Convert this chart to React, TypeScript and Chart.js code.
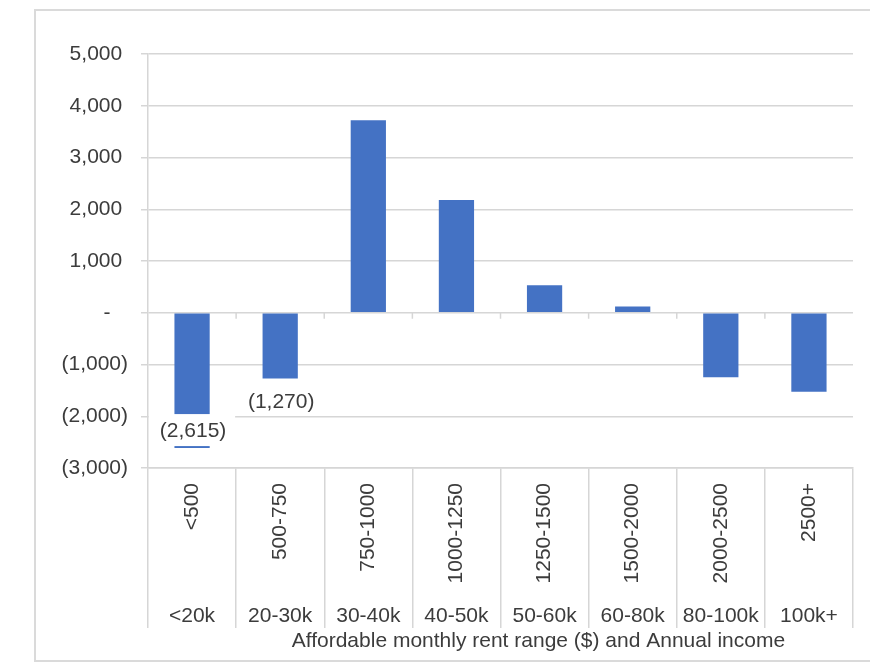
import React, { useEffect, useRef } from "react";
import { Chart, registerables } from "chart.js";

Chart.register(...registerables);

// ---- data ----
const rentRanges = ["<500", "500-750", "750-1000", "1000-1250", "1250-1500", "1500-2000", "2000-2500", "2500+"];
const incomeRanges = ["<20k", "20-30k", "30-40k", "40-50k", "50-60k", "60-80k", "80-100k", "100k+"];
const surplus = [-2615, -1270, 3720, 2180, 530, 120, -1245, -1525];
const labelledBars = [0, 1];
const yMin = -3000;
const yMax = 5000;
const yStep = 1000;
const xTitle = "Affordable monthly rent range ($) and Annual income";

const FONT_FAMILY = '"Liberation Sans", Arial, sans-serif';
const TEXT = "#3c3c3c";
const GRID = "#d6d6d6";
const BAR = "#4472C4";

const fmtNum = (n: number) => Math.round(n).toLocaleString("en-US");
const fmtAcct = (v: number) => (v === 0 ? "-   " : v < 0 ? `(${fmtNum(-v)})` : `${fmtNum(v)} `);

const barLabelPlugin = {
  id: "barLabels",
  afterDatasetsDraw(chart: any) {
    const { ctx, chartArea } = chart;
    const meta = chart.getDatasetMeta(0);
    const xs = chart.scales.x;
    const ys = chart.scales.y;
    const catW = xs.width / rentRanges.length;
    ctx.save();
    // small tick marks on the zero line at category boundaries
    const zeroY = ys.getPixelForValue(0);
    ctx.strokeStyle = GRID;
    ctx.lineWidth = 1.5;
    for (let i = 1; i < rentRanges.length; i++) {
      const bx = xs.getPixelForValue(i) - catW / 2;
      ctx.beginPath();
      ctx.moveTo(bx, zeroY);
      ctx.lineTo(bx, zeroY + 6);
      ctx.stroke();
    }
    ctx.font = `21px ${FONT_FAMILY}`;
    ctx.textAlign = "center";
    ctx.textBaseline = "middle";
    labelledBars.forEach((i) => {
      const el = meta.data[i];
      const v = surplus[i];
      const dir = v < 0 ? 1 : -1;
      let y = el.y + dir * 23;
      if (y + 13 > chartArea.bottom) {
        y = el.y - dir * 18;
        ctx.fillStyle = "#ffffff";
        ctx.fillRect(el.x - catW / 2 + 1, y - 16, catW - 2, 32);
      }
      ctx.fillStyle = TEXT;
      ctx.fillText(fmtAcct(v), el.x + 1, y + 1);
    });
    ctx.restore();
  },
};

export default function App() {
  const ref = useRef<HTMLCanvasElement | null>(null);

  useEffect(() => {
    if (!ref.current) return;
    const font = { family: FONT_FAMILY, size: 21 };
    const chart = new Chart(ref.current, {
      type: "bar",
      data: {
        labels: rentRanges,
        datasets: [
          {
            data: surplus,
            backgroundColor: BAR,
            barPercentage: 0.4,
            categoryPercentage: 1,
            xAxisID: "x",
            yAxisID: "y",
          },
        ],
      },
      options: {
        animation: false,
        responsive: false,
        devicePixelRatio: 1,
        layout: { padding: { top: 54, right: 17, bottom: 17, left: 0 } },
        plugins: { legend: { display: false }, tooltip: { enabled: false } },
        scales: {
          y: {
            min: yMin,
            max: yMax,
            ticks: {
              stepSize: yStep,
              callback: (v: any) => fmtAcct(Number(v)),
              font,
              color: TEXT,
              padding: 13,
            },
            grid: { color: GRID, lineWidth: 1.5, tickLength: 7, drawTicks: true },
            border: { display: true, color: GRID, width: 1.5 },
            afterFit: (s: any) => {
              s.width = 148;
            },
          },
          x: {
            type: "category",
            position: "bottom",
            offset: true,
            weight: 0,
            grid: {
              offset: true,
              drawOnChartArea: false,
              drawTicks: true,
              tickLength: 160,
              color: GRID,
              lineWidth: 1.5,
            },
            border: { display: true, color: GRID, width: 1.5 },
            ticks: {
              minRotation: 90,
              maxRotation: 90,
              autoSkip: false,
              padding: -145,
              font,
              color: TEXT,
            },
            afterFit: (s: any) => {
              s.height = 130;
            },
          },
          x2: {
            type: "category",
            labels: incomeRanges,
            position: "bottom",
            offset: true,
            weight: 1,
            grid: { display: false, drawTicks: false },
            border: { display: false },
            ticks: { padding: 6, font, color: TEXT, autoSkip: false, maxRotation: 0 },
            title: {
              display: true,
              text: " ".repeat(13) + xTitle,
              font,
              color: TEXT,
              padding: 0,
            },
            afterFit: (s: any) => {
              s.height = 56;
            },
          },
        },
      } as any,
      plugins: [barLabelPlugin],
    });
    return () => chart.destroy();
  }, []);

  return (
    <div
      style={{
        position: "absolute",
        left: 0,
        top: 0,
        width: 870,
        height: 671,
        overflow: "hidden",
        background: "#ffffff",
      }}
    >
      <div
        style={{
          position: "absolute",
          left: 34,
          top: 9,
          width: 900,
          height: 653,
          border: "2px solid #dadada",
          boxSizing: "border-box",
        }}
      />
      <canvas ref={ref} width={870} height={671} style={{ position: "absolute", left: 0, top: 0 }} />
    </div>
  );
}
